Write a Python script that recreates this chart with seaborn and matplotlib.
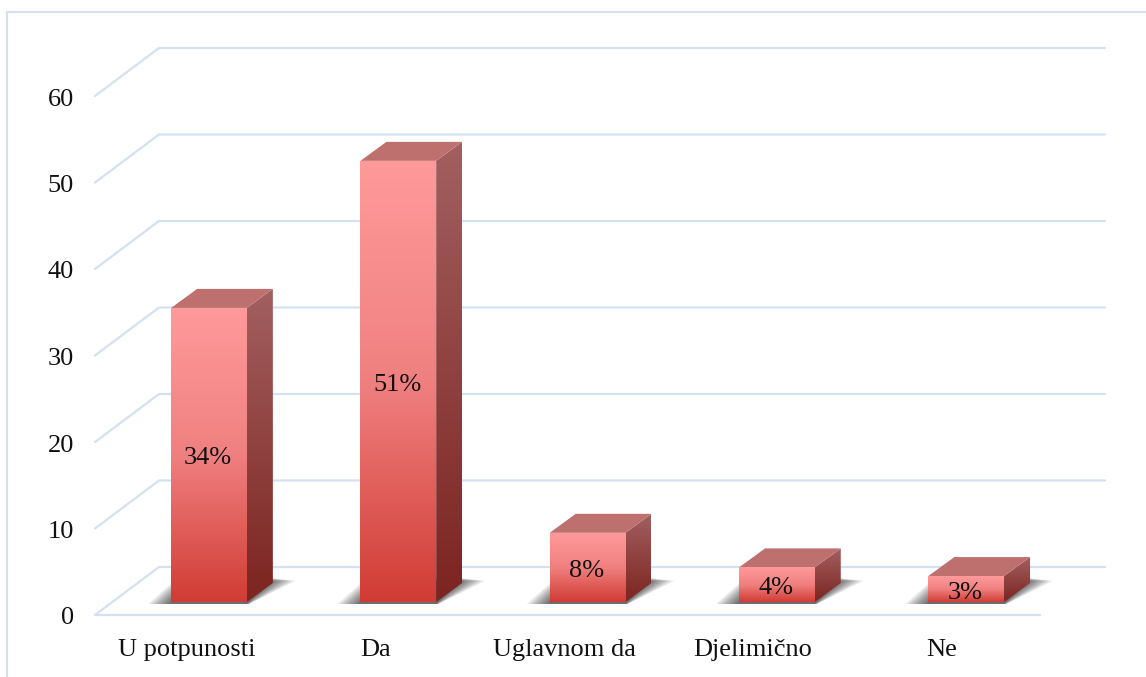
import numpy as np
import pandas as pd
import matplotlib
matplotlib.use("Agg")
import matplotlib.pyplot as plt
from matplotlib.colors import LinearSegmentedColormap
from matplotlib.patches import Polygon
import seaborn as sns

categories = ["U potpunosti", "Da", "Uglavnom da", "Djelimično", "Ne"]
values = [34, 51, 8, 4, 3]
value_labels = ["34%", "51%", "8%", "4%", "3%"]
y_ticks = [0, 10, 20, 30, 40, 50, 60]

W, H = 1146, 677
GRID = "#D3E1F2"
TXT = "#111111"

sns.set_theme(style="white")
plt.rcParams["font.family"] = ["Liberation Serif", "DejaVu Serif"]

fig = plt.figure(figsize=(W / 100, H / 100), dpi=100, facecolor="white")
ax = fig.add_axes([0, 0, 1, 1])

df = pd.DataFrame({"cat": categories, "val": values})
sns.barplot(data=df, x="cat", y="val", width=0.4, color="#E06060", ax=ax, zorder=3,
            linewidth=0, saturation=1)

# scales: pixels per data unit
SX, SY = 189.3, 8.65
X0, Y0 = 209.0, 602.0          # pixel of category 0, value 0
xlim = (-X0 / SX, (W - X0) / SX)
ylim = ((Y0 - H) / SY, Y0 / SY)


def ox(px):
    return px / SX


def oy(px):
    return px / SY


floor_y = -oy(13)
left = ox(95 - X0)
floor_right = ox(1040 - X0)
wall_dx, wall_dy = ox(64), oy(48)
wall_right = ox(1105 - X0)
depth_dx, depth_dy = ox(26), oy(19)

# frame
ax.plot([ox(7 - X0), ox(7 - X0), xlim[1]], [ylim[0], oy(Y0 - 12), oy(Y0 - 12)],
        color=GRID, lw=1.5, zorder=1, solid_joinstyle="miter")

# 3D gridlines
for t in y_ticks:
    y = floor_y + t
    ax.plot([left, left + wall_dx, wall_right], [y, y + wall_dy, y + wall_dy],
            color=GRID, lw=1.6, zorder=1, solid_joinstyle="round")
    ax.text(ox(74 - X0), y - oy(3.5), str(t), ha="right", va="center", fontsize=19, color=TXT)
ax.plot([left, floor_right], [floor_y, floor_y], color=GRID, lw=1.6, zorder=1)

front_cmap = LinearSegmentedColormap.from_list("f", ["#FF9A9A", "#F08080", "#D03C34"])
side_cmap = LinearSegmentedColormap.from_list("s", ["#A26060", "#7C2420"])
grad = np.linspace(0, 1, 256).reshape(-1, 1)

for i, patch in enumerate(ax.patches[:len(categories)]):
    x0, w, h = patch.get_x(), patch.get_width(), patch.get_height()
    x1 = x0 + w

    # soft shadow on the floor
    for spread in np.linspace(23, 1, 10):
        s = ox(spread)
        t = oy(spread * 0.12)
        shadow = Polygon([(x0 - s, -oy(2) + oy(0) - t * 0), (x1 + s * 0.1, -oy(2)),
                          (x1 + depth_dx + s, oy(24) - t), (x0 - s + depth_dx, oy(24) - t)],
                         closed=True, facecolor="black", alpha=0.08, edgecolor="none", zorder=2)
        ax.add_patch(shadow)

    # front gradient
    front = ax.imshow(grad, cmap=front_cmap, aspect="auto", extent=(x0, x1, 0, h),
                      origin="upper", zorder=3.2)
    front.set_clip_path(patch)

    # side face
    side = Polygon([(x1, 0), (x1 + depth_dx, depth_dy), (x1 + depth_dx, h + depth_dy), (x1, h)],
                   closed=True, facecolor="none", edgecolor="none", zorder=3)
    ax.add_patch(side)
    im = ax.imshow(grad, cmap=side_cmap, aspect="auto",
                   extent=(x1, x1 + depth_dx, 0, h + depth_dy), origin="upper", zorder=3.1)
    im.set_clip_path(side)

    # top face
    ax.add_patch(Polygon([(x0, h), (x1, h), (x1 + depth_dx, h + depth_dy), (x0 + depth_dx, h + depth_dy)],
                         closed=True, facecolor="#BE706E", edgecolor="none", zorder=3.1))

    # value label
    ax.text(x0 + w / 2 - ox(1), h / 2 - oy(3.5), value_labels[i], ha="center", va="center",
            fontsize=19, color=TXT, zorder=5)
    # category label
    ax.text(i - ox(22 + 0.75 * i), -oy(48), categories[i], ha="center", va="center",
            fontsize=19, color=TXT, zorder=5)

ax.set_xlim(*xlim)
ax.set_ylim(*ylim)
ax.axis("off")

fig.savefig("out.png", dpi=100, facecolor="white")
